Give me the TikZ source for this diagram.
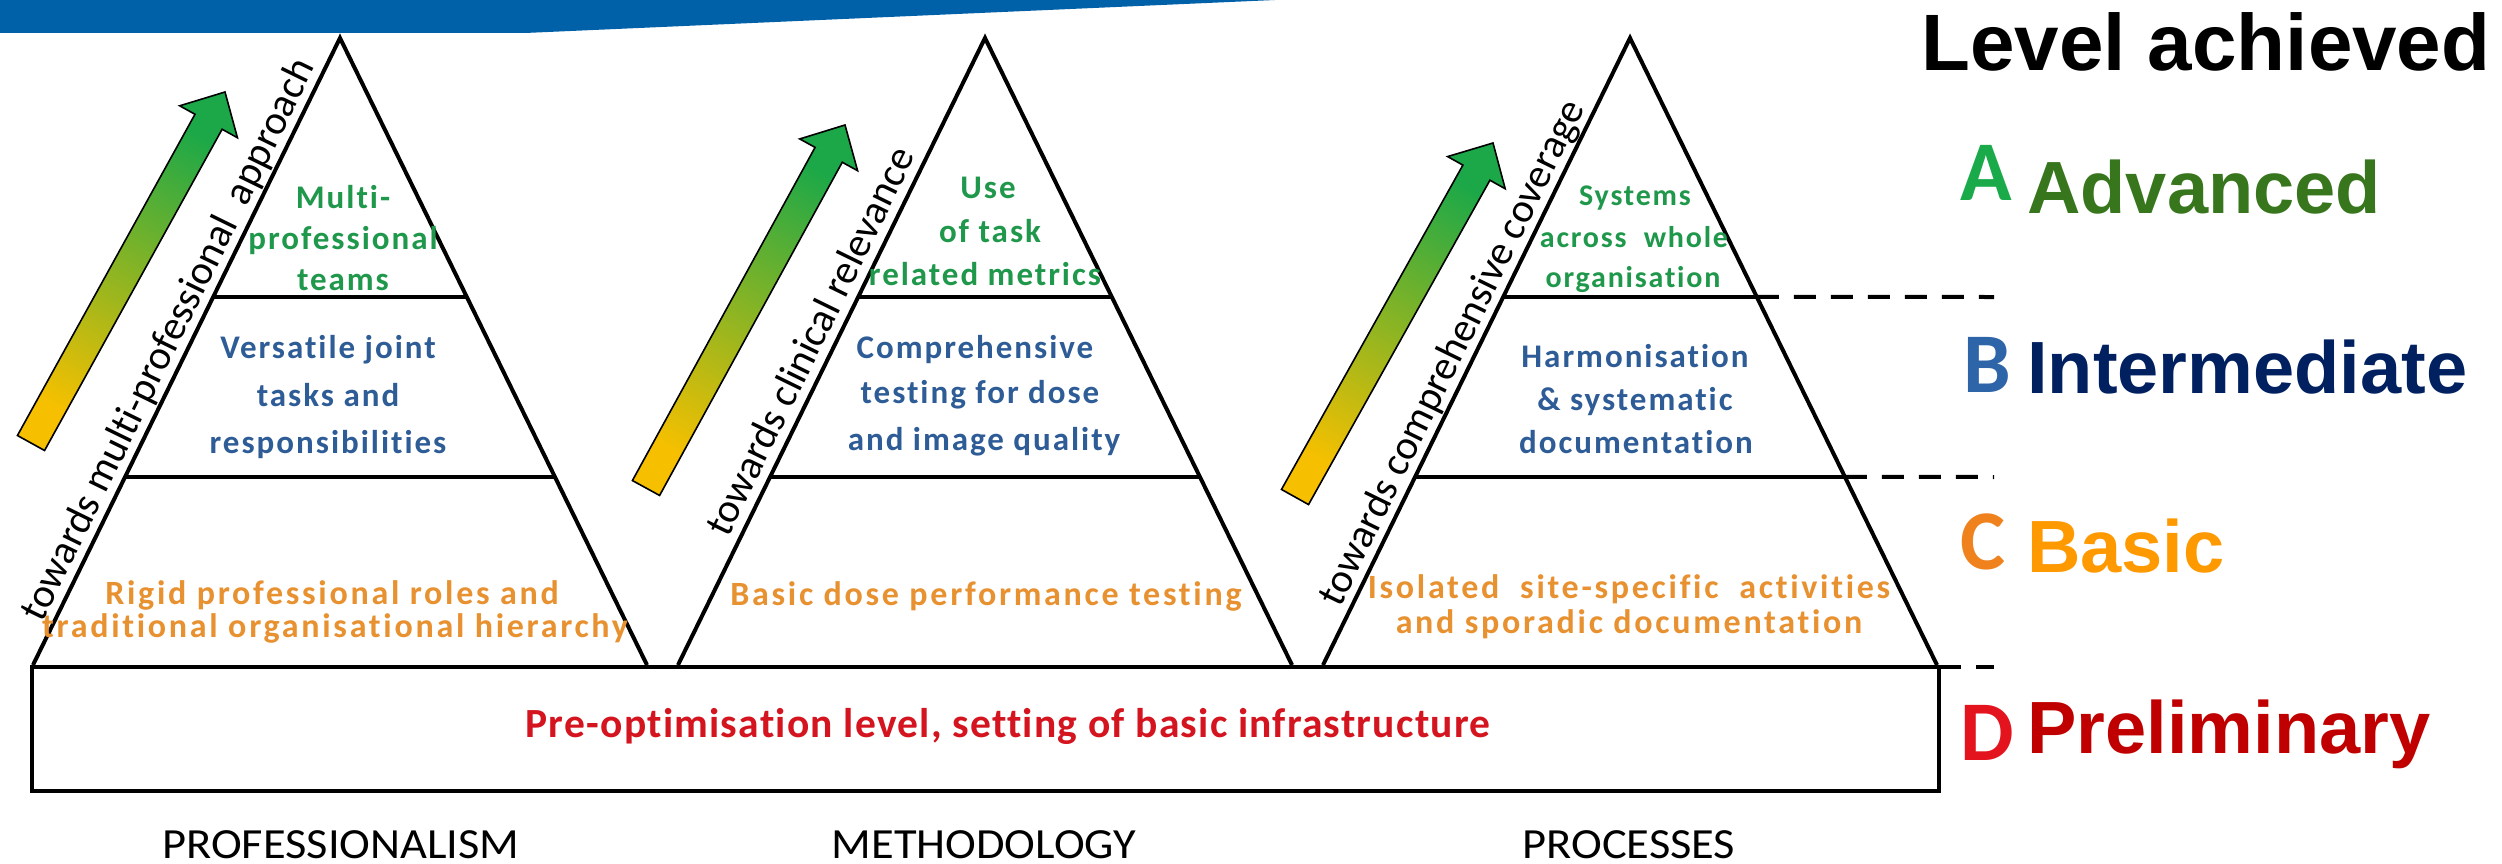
\documentclass[tikz,border=0pt]{standalone}
\usepackage{fontspec}
\usetikzlibrary{calc}
\newfontfamily\cfont{Carlito}[Ligatures=NoCommon]
\newfontfamily\cfontw{Carlito}[FakeStretch=1.08,Ligatures=NoCommon]
\newfontfamily\cfontls{Carlito}[LetterSpace=6,Ligatures=NoCommon]
\newfontfamily\cfontlo{Carlito}[LetterSpace=8,Ligatures=NoCommon]
\newfontfamily\cfontbot{Carlito}[LetterSpace=3,Ligatures=NoCommon]
\newfontfamily\arialf{Liberation Sans}
\definecolor{banner}{RGB}{0,96,168}
\definecolor{tgreen}{RGB}{32,152,76}
\definecolor{tblue}{RGB}{46,92,150}
\definecolor{torange}{RGB}{232,145,48}
\definecolor{tred}{RGB}{212,20,30}
\definecolor{agreen}{RGB}{28,168,72}
\definecolor{ayellow}{RGB}{246,192,0}
\definecolor{lA}{RGB}{26,170,74}
\definecolor{lB}{RGB}{46,100,168}
\definecolor{lC}{RGB}{240,130,30}
\definecolor{lD}{RGB}{228,20,30}
\definecolor{wA}{RGB}{56,118,29}
\definecolor{wB}{RGB}{0,32,96}
\definecolor{wC}{RGB}{255,153,0}
\definecolor{wD}{RGB}{192,0,0}
\newcommand\gradarr[3]{%
  \coordinate (#3h) at ($(#2)!34pt!(#1)$);
  \path[arrowbody] ($(#1)!15.5pt!90:(#2)$) -- ($(#3h)!15.5pt!90:(#2)$) -- ($(#3h)!33pt!90:(#2)$) -- (#2)
    -- ($(#3h)!33pt!-90:(#2)$) -- ($(#3h)!15.5pt!-90:(#2)$) -- ($(#1)!15.5pt!-90:(#2)$) -- cycle;}
\begin{document}
\begin{tikzpicture}[x=1pt,y=-1pt,
  pyr/.style={line width=4pt, draw=black},
  basebox/.style={line width=4.5pt, draw=black},
  dashline/.style={line width=4pt, draw=black, dash pattern=on 22pt off 15pt},
  arrowbody/.style={draw=black, line width=1.6pt, top color=agreen, bottom color=ayellow, shading angle=-29},
  inner/.style={anchor=base, inner sep=0pt, font=\cfontls\bfseries\fontsize{33}{40}\selectfont},
  gtxt/.style={inner, text=tgreen},
  btxt/.style={inner, text=tblue},
  otxt/.style={inner, text=torange, font=\cfontlo\bfseries\fontsize{34}{40}\selectfont},
  side/.style={anchor=base, inner sep=0pt, font=\cfont\fontsize{41}{48}\selectfont, rotate=63.9},
  title/.style={anchor=base, inner sep=0pt, font=\cfontw\fontsize{43}{50}\selectfont},
  biglet/.style={anchor=base west, inner sep=0pt, font=\cfont\bfseries\fontsize{85}{95}\selectfont},
  lvlword/.style={anchor=base west, inner sep=0pt, font=\arialf\bfseries\fontsize{74}{84}\selectfont}]
\useasboundingbox (0,0) rectangle (2502,864);
\fill[white] (0,0) rectangle (2502,864);
% banner
\fill[banner] (0,0) -- (1275,0) -- (525,33) -- (0,33) -- cycle;

% arrows
\coordinate (a1t) at (31,443);   \coordinate (a1p) at (225,92);
\coordinate (a2t) at (646,488);  \coordinate (a2p) at (845,125);
\coordinate (a3t) at (1295,497); \coordinate (a3p) at (1493,143);
\gradarr{a1t}{a1p}{a1}
\gradarr{a2t}{a2p}{a2}
\gradarr{a3t}{a3p}{a3}

% pyramids
\coordinate (t1a) at (340,38);  \coordinate (t1l) at (33,665);   \coordinate (t1r) at (647,665);
\coordinate (t2a) at (985,38);  \coordinate (t2l) at (678,665);  \coordinate (t2r) at (1292,665);
\coordinate (t3a) at (1630,38); \coordinate (t3l) at (1323,665); \coordinate (t3r) at (1937,665);
\foreach \t in {t1,t2,t3}{
  \draw[pyr] (\t l) -- (\t a) -- (\t r);
  \draw[pyr] ($(\t a)!0.413!(\t l)$) -- ($(\t a)!0.413!(\t r)$);
  \draw[pyr] ($(\t a)!0.700!(\t l)$) -- ($(\t a)!0.700!(\t r)$);
}
% base box
\coordinate (bx1) at (32,667); \coordinate (bx2) at (1939,791);
\draw[basebox] (bx1) rectangle (bx2);

% dashed level lines
\coordinate (d1) at (1994,297); \coordinate (d2) at (1994,477); \coordinate (d3) at (1994,667);
\coordinate (bxr) at (1939,667);
\draw[dashline] ($(t3a)!0.413!(t3r)$) -- (d1);
\draw[dashline] ($(t3a)!0.700!(t3r)$) -- (d2);
\draw[dashline] (bxr) -- (d3);

% side labels
\node[side] (s1) at (179,345) {towards multi-professional\ \ approach};
\node[side] (s2) at (822,347) {towards clinical relevance};
\node[side] (s3) at (1463,358) {towards comprehensive coverage};

% pyramid 1 texts
\node[gtxt] (p1g1) at (343,208) {Multi-};
\node[gtxt] (p1g2) at (343,249) {professional};
\node[gtxt] (p1g3) at (343,290) {teams};
\node[btxt] (p1b1) at (328,358) {Versatile joint};
\node[btxt] (p1b2) at (328,406) {tasks and};
\node[btxt] (p1b3) at (328,453) {responsibilities};
\node[otxt] (p1o1) at (332,604) {Rigid professional roles and};
\node[otxt] (p1o2) at (335,637) {traditional organisational hierarchy};

% pyramid 2 texts
\node[gtxt] (p2g1) at (988,198) {Use};
\node[gtxt] (p2g2) at (990,242) {of task};
\node[gtxt] (p2g3) at (985,285) {related metrics};
\node[btxt] (p2b1) at (975,358) {Comprehensive};
\node[btxt] (p2b2) at (980,403) {testing for dose};
\node[btxt] (p2b3) at (984,450) {and image quality};
\node[otxt] (p2o1) at (986,605) {Basic dose performance testing};

% pyramid 3 texts
\node[gtxt, font=\cfontls\bfseries\fontsize{30}{36}\selectfont] (p3g1) at (1635,205) {Systems};
\node[gtxt, font=\cfontls\bfseries\fontsize{30}{36}\selectfont] (p3g2) at (1634,247) {across\ \ whole};
\node[gtxt, font=\cfontls\bfseries\fontsize{30}{36}\selectfont] (p3g3) at (1633,287) {organisation};
\node[btxt] (p3b1) at (1635,367) {Harmonisation};
\node[btxt] (p3b2) at (1635,410) {\& systematic};
\node[btxt] (p3b3) at (1636,453) {documentation};
\node[otxt] (p3o1) at (1629,598) {Isolated\ \ site-specific\ \ activities};
\node[otxt] (p3o2) at (1629,633) {and sporadic documentation};

% base text
\node[anchor=base, inner sep=0pt, text=tred, font=\cfontbot\bfseries\fontsize{41.5}{48}\selectfont] (bt) at (1008,737) {Pre-optimisation level, setting of basic infrastructure};

% titles
\node[title] (ti1) at (341,858) {PROFESSIONALISM};
\node[title] (ti2) at (984,858) {METHODOLOGY};
\node[title] (ti3) at (1629,858) {PROCESSES};

% legend
\node[anchor=base west, inner sep=0pt, font=\arialf\bfseries\fontsize{80}{90}\selectfont] (lvl) at (1921,71) {Level achieved};
\node[biglet, text=lA] (lA) at (1960,200) {A};
\node[lvlword, text=wA] (wA) at (2027,213) {Advanced};
\node[biglet, text=lB] (lB) at (1963,392) {B};
\node[lvlword, text=wB] (wB) at (2027,393) {Intermediate};
\node[biglet, text=lC] (lC) at (1960,569) {C};
\node[lvlword, text=wC] (wC) at (2027,572) {Basic};
\node[biglet, text=lD] (lD) at (1960,760) {D};
\node[lvlword, text=wD] (wD) at (2027,753) {Preliminary};
\end{tikzpicture}
\end{document}
